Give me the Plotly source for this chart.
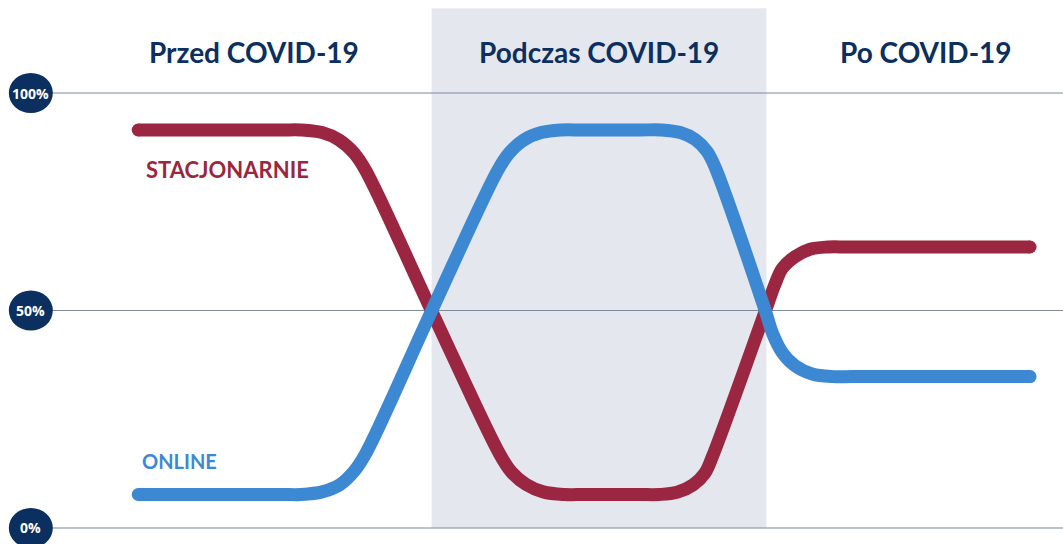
import plotly.graph_objects as go

# ---- data ----
periods = ["Przed COVID-19", "Podczas COVID-19", "Po COVID-19"]
period_centers = [23.9, 56.35, 87.1]
period_span = [40.6, 72.1]          # shaded "during" period on the time axis

# STACJONARNIE (share, %)
t_stac = [13.0, 20.5, 26.5, 28.3, 30.3, 31.9, 33.3, 34.4, 40.6, 47.0, 48.1, 49.5, 51.1, 53.1,
          55.0, 57.6, 60.2, 62.0, 63.7, 65.2, 66.3, 67.0, 72.0, 72.9, 73.6, 74.8, 76.2, 77.9,
          79.8, 88.0, 96.9]
v_stac = [91.5, 91.5, 91.5, 91.5, 90.9, 89.2, 86.2, 82.2, 49.9, 17.0, 12.9, 10.0, 8.3, 7.7,
          7.7, 7.7, 7.7, 7.7, 8.2, 9.9, 12.6, 16.3, 49.9, 56.0, 59.7, 62.4, 64.1, 64.6,
          64.6, 64.6, 64.6]

# ONLINE (share, %)
t_online = [13.0, 20.5, 26.5, 28.3, 30.3, 32.0, 33.3, 34.4, 40.6, 46.8, 47.9, 49.2, 50.9, 52.8,
            54.7, 57.5, 60.3, 62.2, 64.0, 65.4, 66.5, 67.3, 72.0, 72.7, 73.6, 74.8, 76.4, 78.4,
            80.3, 88.0, 96.9]
v_online = [7.7, 7.7, 7.7, 7.7, 8.3, 10.0, 13.0, 17.1, 49.9, 82.1, 86.2, 89.1, 90.9, 91.5,
            91.5, 91.5, 91.5, 91.5, 90.9, 89.3, 86.6, 82.8, 49.9, 44.6, 40.3, 37.3, 35.4, 34.8,
            34.8, 34.8, 34.8]

tick_vals = [0, 50, 100]
tick_text = ["0%", "50%", "100%"]

series_names = ["STACJONARNIE", "ONLINE"]
label_pos = [(21.4, 82.3), (16.9, 15.3)]
label_sizes = [22, 20]

RED = "#9b2641"
BLUE = "#3d88d3"
NAVY = "#0b2f5e"
GRID = "#7d8a9c"

fig = go.Figure()

# shaded period
fig.add_shape(type="rect", xref="x", yref="y",
              x0=period_span[0], x1=period_span[1], y0=0, y1=119.5,
              fillcolor="#e4e8ee", line_width=0, layer="below")

# grid lines
for v in tick_vals:
    fig.add_shape(type="line", xref="x", yref="y", x0=3.8, x1=100, y0=v, y1=v,
                  line=dict(color=GRID, width=1.2), layer="below")

for name, t, v, c in [(series_names[0], t_stac, v_stac, RED),
                      (series_names[1], t_online, v_online, BLUE)]:
    fig.add_trace(go.Scatter(x=t, y=v, mode="lines", name=name,
                             line=dict(color=c, width=13, shape="spline", smoothing=1.0),
                             hoverinfo="skip"))
    fig.add_trace(go.Scatter(x=[t[0], t[-1]], y=[v[0], v[-1]], mode="markers",
                             marker=dict(color=c, size=13, line_width=0),
                             hoverinfo="skip", showlegend=False))

# axis badges
for v, txt in zip(tick_vals, tick_text):
    fig.add_shape(type="circle", xref="x", yref="y", xsizemode="pixel", ysizemode="pixel",
                  xanchor=2.9, yanchor=v, x0=-22, x1=22, y0=-20, y1=20,
                  fillcolor=NAVY, line_width=0, layer="above")
    fig.add_annotation(x=2.9, y=v, xref="x", yref="y", text="<b>" + txt + "</b>",
                       showarrow=False, font=dict(family="Open Sans", size=14, color="white"))

# period titles
for name, cx in zip(periods, period_centers):
    fig.add_annotation(x=cx, y=109.4, xref="x", yref="y", text="<b>" + name + "</b>",
                       showarrow=False, font=dict(family="Lato", size=28, color=NAVY))

# series labels
for name, (lx, ly), c, s in zip(series_names, label_pos, [RED, BLUE], label_sizes):
    fig.add_annotation(x=lx, y=ly, xref="x", yref="y", text="<b>" + name + "</b>",
                       showarrow=False, font=dict(family="Lato", size=s, color=c))

fig.update_layout(
    width=1063, height=544,
    margin=dict(l=0, r=0, t=0, b=0),
    plot_bgcolor="white", paper_bgcolor="white",
    showlegend=False,
    xaxis=dict(range=[0, 100], visible=False, fixedrange=True),
    yaxis=dict(range=[-3.68, 121.38], visible=False, fixedrange=True),
)

fig.write_html("out.html", config={"displayModeBar": False},
               post_script="document.body.style.margin='0';")
